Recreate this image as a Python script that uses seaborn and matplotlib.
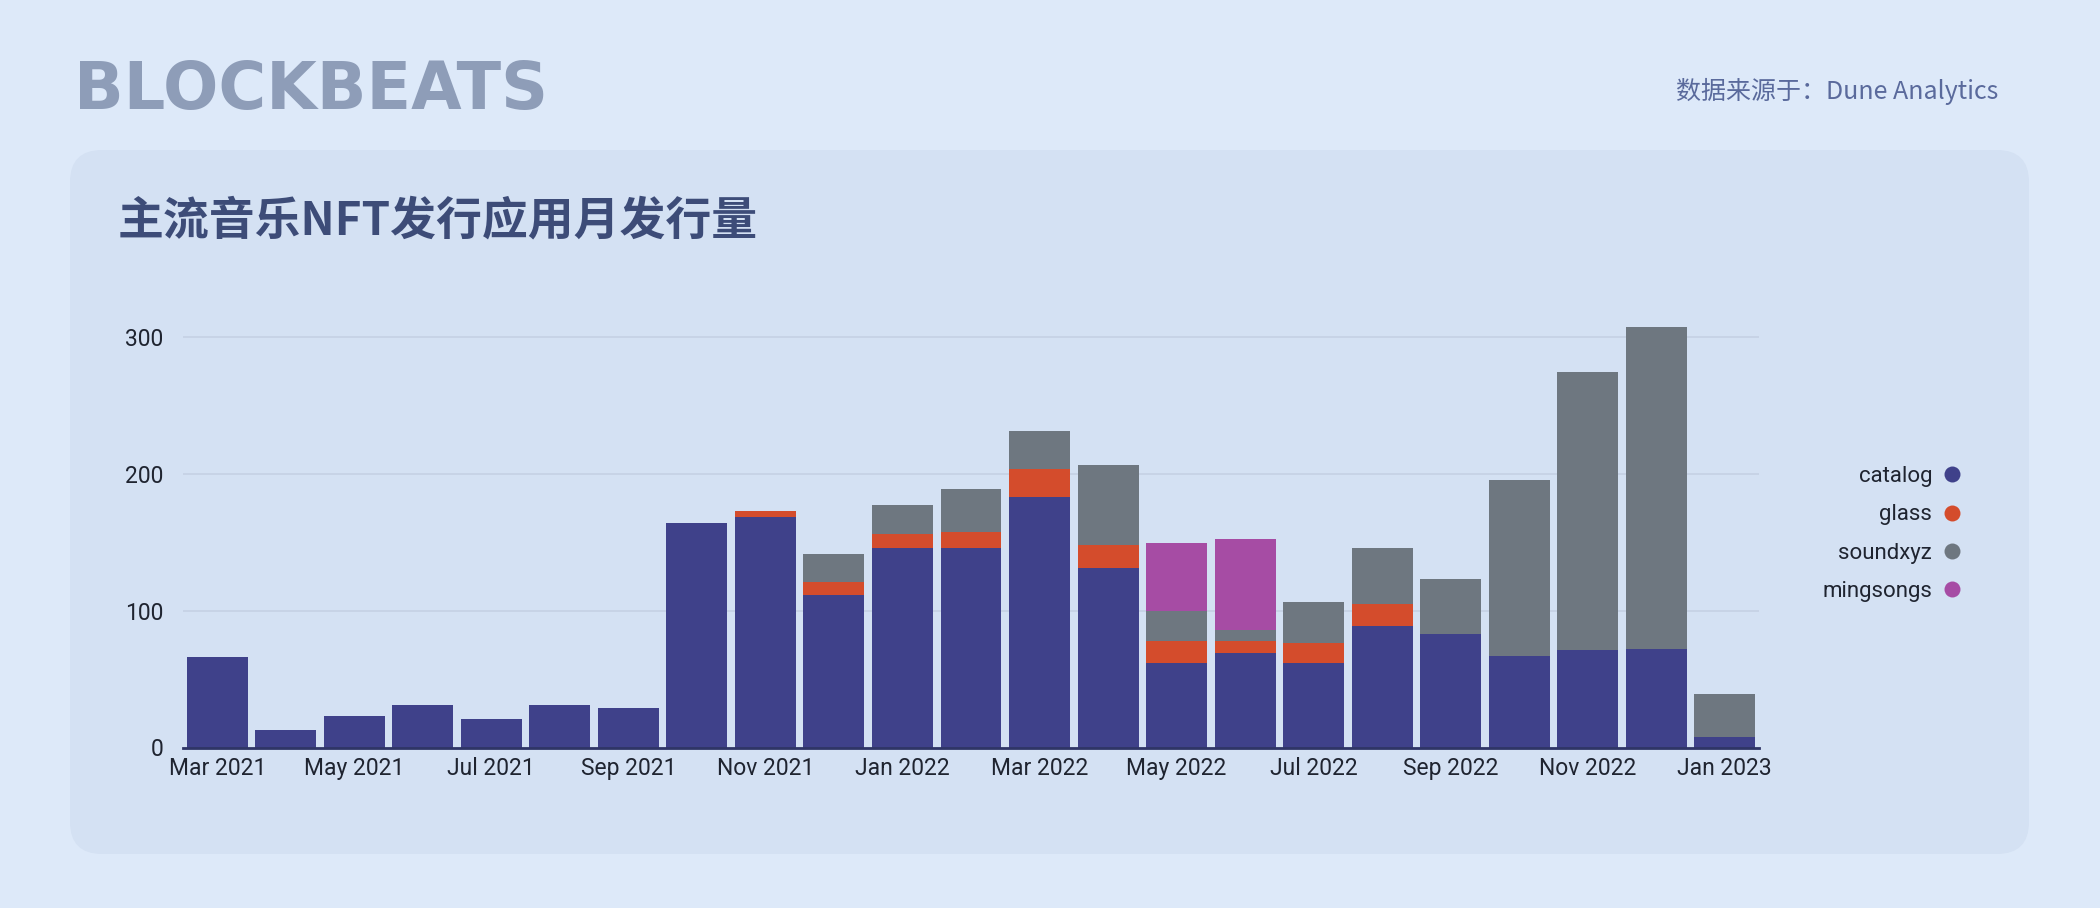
import numpy as np
import pandas as pd
import matplotlib.pyplot as plt
import seaborn as sns
from matplotlib.patches import FancyBboxPatch
from matplotlib.lines import Line2D

# 数据
months = ['Mar 2021', 'Apr 2021', 'May 2021', 'Jun 2021', 'Jul 2021', 'Aug 2021',
          'Sep 2021', 'Oct 2021', 'Nov 2021', 'Dec 2021', 'Jan 2022', 'Feb 2022',
          'Mar 2022', 'Apr 2022', 'May 2022', 'Jun 2022', 'Jul 2022', 'Aug 2022',
          'Sep 2022', 'Oct 2022', 'Nov 2022', 'Dec 2022', 'Jan 2023']
catalog = [66, 13, 23, 31, 21, 31, 29, 164, 168, 111, 146, 146, 183, 131,
           62, 69, 62, 89, 83, 67, 71, 72, 8]
glass = [0] * 8 + [5, 10, 10, 11, 20, 17, 16, 9, 14, 16] + [0] * 5
soundxyz = [0] * 9 + [20, 21, 32, 28, 58, 22, 8, 30, 41, 40, 128, 203, 235, 31]
mingsongs = [0] * 14 + [49, 66] + [0] * 7

series = ['catalog', 'glass', 'soundxyz', 'mingsongs']
colors = {'catalog': '#3f418a', 'glass': '#d44c2c',
          'soundxyz': '#6e7780', 'mingsongs': '#a64ca4'}

df = pd.DataFrame({'month': months, 'catalog': catalog, 'glass': glass,
                   'soundxyz': soundxyz, 'mingsongs': mingsongs})
# 堆叠：累计值
cum = df[series].cumsum(axis=1)
cum['month'] = months

sns.set_style('white')
plt.rcParams['font.family'] = ['Roboto', 'Noto Sans CJK SC', 'DejaVu Sans']

fig = plt.figure(figsize=(21, 9.08), dpi=100)
fig.patch.set_facecolor('#dde9f9')

# 背景卡片
bg = fig.add_axes([0, 0, 1, 1], zorder=-1)
bg.set_xlim(0, 2100)
bg.set_ylim(908, 0)
bg.axis('off')
bg.add_patch(FancyBboxPatch((70, 150), 1959, 704,
                            boxstyle='round,pad=0,rounding_size=32',
                            facecolor='#d4e1f3', edgecolor='none'))

ax = fig.add_axes([183 / 2100, 1 - 747.5 / 908, 1576 / 2100, 452 / 908])
ax.set_facecolor('none')

for s in reversed(series):
    sns.barplot(data=cum, x='month', y=s, order=months, color=colors[s],
                saturation=1, width=0.89, linewidth=0, errorbar=None, ax=ax)

ax.set_ylim(0, 330)
ax.set_yticks([0, 100, 200, 300])
ax.set_xticks(range(0, len(months), 2))
ax.set_xticklabels(months[::2])
ax.set_xlabel('')
ax.set_ylabel('')
ax.tick_params(axis='x', length=0, pad=7, labelsize=16.5, labelcolor='#1f2430')
ax.tick_params(axis='y', length=0, pad=14, labelsize=16.5, labelcolor='#1f2430')
ax.grid(True, axis='y', color='#c5d1e4', linewidth=1.2)
ax.set_axisbelow(True)
sns.despine(ax=ax, left=True)
ax.spines['bottom'].set_color('#2f3566')
ax.spines['bottom'].set_linewidth(2)

handles = [Line2D([], [], marker='o', linestyle='none', markersize=11.5,
                  markerfacecolor=colors[s], markeredgecolor='none') for s in series]
ax.legend(handles, series, loc='upper right', bbox_to_anchor=(1961 / 2100, 1 - 466 / 908),
          bbox_transform=fig.transFigure, frameon=False, markerfirst=False,
          fontsize=16, labelspacing=0.78, handlelength=0.8, handletextpad=0.5,
          borderpad=0, borderaxespad=0, labelcolor='#1f2430')

fig.text(74 / 2100, 1 - 91 / 908, 'BLOCKBEATS', fontsize=47, fontweight='bold',
         family='DejaVu Sans', color='#8e9db8', va='center', ha='left')
fig.text(1998 / 2100, 1 - 91 / 908, '数据来源于：Dune Analytics', fontsize=18,
         family=['Noto Sans CJK SC', 'DejaVu Sans'], color='#5a6a9c',
         va='center', ha='right')
fig.text(118 / 2100, 1 - 221 / 908, '主流音乐NFT发行应用月发行量', fontsize=33,
         fontweight='bold', family=['Noto Sans CJK SC', 'DejaVu Sans'],
         color='#3d4c78', va='center', ha='left')

fig.savefig('out.png', dpi=100, facecolor=fig.get_facecolor())
